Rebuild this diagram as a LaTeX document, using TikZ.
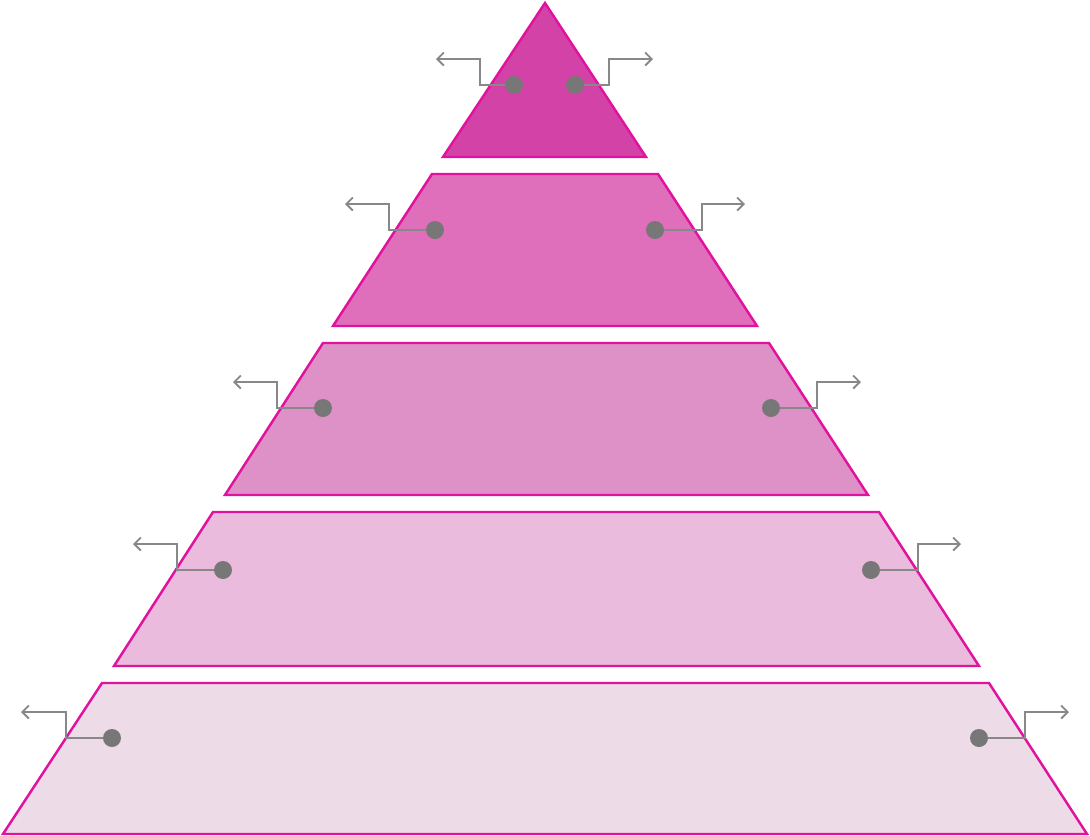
\documentclass[tikz,border=0pt]{standalone}
\usepackage{xcolor}
\usepackage{tikz}
\usetikzlibrary{arrows.meta}

\definecolor{edgepink}{HTML}{E0129E}
\definecolor{layerA}{HTML}{D343A7}
\definecolor{layerB}{HTML}{DF6EBB}
\definecolor{layerC}{HTML}{DE91C7}
\definecolor{layerD}{HTML}{EABBDC}
\definecolor{layerE}{HTML}{EDDBE8}
\definecolor{dotgray}{HTML}{777777}
\definecolor{linegray}{HTML}{888888}

\tikzset{
  layer/.style={draw=edgepink, line width=1.4pt},
  dot/.style={circle, fill=dotgray, inner sep=0pt, minimum size=0.36cm},
  conn/.style={draw=linegray, line width=1.1pt, -{Straight Barb[length=0.13cm, width=0.26cm]}}
}

\begin{document}
\begin{tikzpicture}[x=0.02cm, y=-0.02cm]
      \useasboundingbox (0,0) rectangle (1090,836);

      % Pyramid layers
      \foreach \n/\yt/\yb/\tl/\tr/\bl/\br/\col in {1/3/157/545/545/443/646/layerA,
          2/174/326/432/658/333/757/layerB, 3/343/495/323/769/225/868/layerC,
          4/512/666/213/879/114/979/layerD, 5/683/834/102/989/3/1087/layerE} {
        \draw[layer, fill=\col] (\bl,\yb) -- (\tl,\yt) -- (\tr,\yt) -- (\br,\yb) -- cycle;
      }

      % Dots with bent arrows
      \foreach \n/\y/\xl/\kl/\el/\xr/\kr/\er in {1/85/514/480/436/575/609/653,
          2/230/435/389/345/655/702/745, 3/408/323/277/233/771/817/861,
          4/570/223/177/133/871/918/961, 5/738/112/66/21/979/1025/1069} {
        \node[dot] (left\n) at (\xl,\y) {};
        \node[dot] (right\n) at (\xr,\y) {};
        \coordinate (lknee\n) at (\kl,\y-26);
        \coordinate (lend\n) at (\el,\y-26);
        \coordinate (rknee\n) at (\kr,\y-26);
        \coordinate (rend\n) at (\er,\y-26);
        \draw[conn] (left\n) -| (lknee\n) -- (lend\n);
        \draw[conn] (right\n) -| (rknee\n) -- (rend\n);
      }
\end{tikzpicture}
\end{document}
